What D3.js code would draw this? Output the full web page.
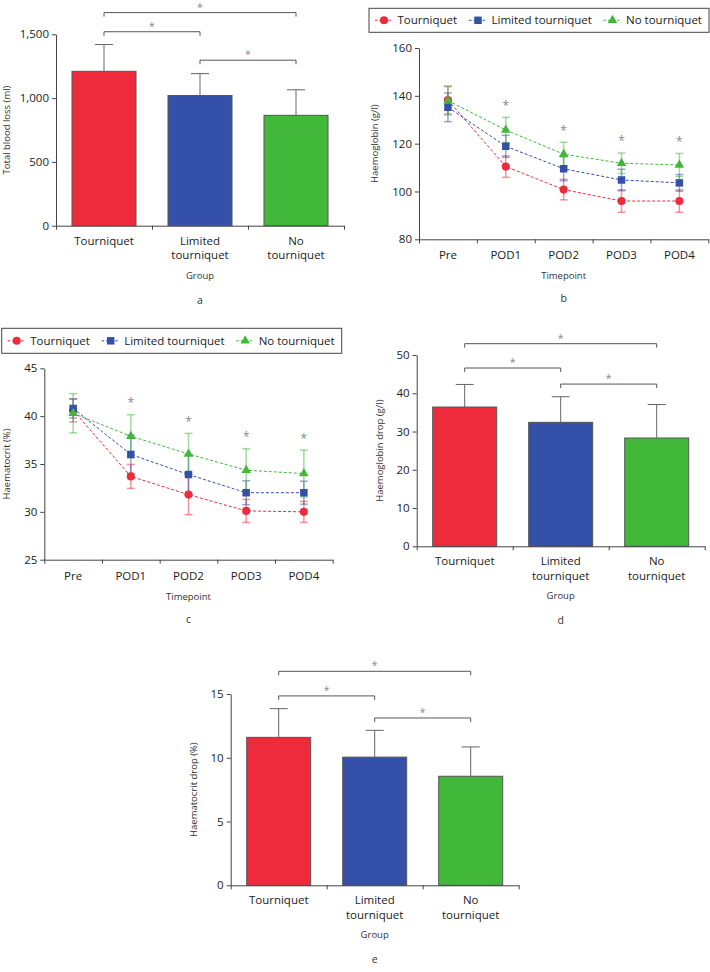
<!DOCTYPE html>
<html><head><meta charset="utf-8">
<script src="https://cdn.jsdelivr.net/npm/d3@7/dist/d3.min.js"></script>
<style>
body{margin:0;background:#fff;}
svg{display:block;font-family:"Open Sans",sans-serif;}
</style></head><body>
<svg id="chart" width="710" height="972"></svg>
<script>
// ---------------- DATA ----------------
const groups = ["Tourniquet", "Limited tourniquet", "No tourniquet"];
const groupLabelLines = [["Tourniquet"], ["Limited", "tourniquet"], ["No", "tourniquet"]];
const groupColors = ["#EE2A3D", "#3550A8", "#42B83B"];

const bloodLossMean = [1210, 1020, 865];
const bloodLossSD = [210, 172, 200];

const hbDropMean = [36.4, 32.4, 28.3];
const hbDropSD = [5.9, 6.7, 8.75];

const hctDropMean = [11.6, 10.05, 8.55];
const hctDropSD = [2.25, 2.1, 2.3];

const comparisons = [[0, 2], [0, 1], [1, 2]];

const timepoints = ["Pre", "POD1", "POD2", "POD3", "POD4"];
const hbTourniquet = [138.2, 110.4, 100.8, 96.0, 96.0];
const hbTourniquetSD = [5.7, 4.5, 4.3, 4.7, 4.7];
const hbLimited = [135.2, 118.9, 109.5, 104.8, 103.6];
const hbLimitedSD = [6.0, 4.6, 5.0, 4.5, 3.5];
const hbNone = [138.0, 125.7, 115.6, 111.8, 111.1];
const hbNoneSD = [6.1, 5.3, 5.0, 4.3, 4.8];

const hctTourniquet = [40.6, 33.7, 31.8, 30.1, 30.0];
const hctTourniquetSD = [1.2, 1.25, 2.1, 1.2, 1.1];
const hctLimited = [40.8, 36.0, 33.9, 32.0, 32.0];
const hctLimitedSD = [1.0, 2.0, 2.1, 1.25, 1.2];
const hctNone = [40.3, 37.9, 36.05, 34.35, 34.0];
const hctNoneSD = [2.05, 2.25, 2.15, 2.25, 2.45];

const significantTimepoints = ["POD1", "POD2", "POD3", "POD4"];

const blTicks = [0, 500, 1000, 1500];
const hbDropTicks = [0, 10, 20, 30, 40, 50];
const hctDropTicks = [0, 5, 10, 15];
const hbTicks = [80, 100, 120, 140, 160];
const hctTicks = [25, 30, 35, 40, 45];

// ---------------- STYLE ----------------
const AXIS = "#444";
const TICKFS = 11.5, TITLEFS = 9.5, LABFS = 10.5;
const svg = d3.select("#chart");

function styleAxis(g) {
  g.select(".domain").attr("stroke", AXIS).attr("stroke-width", 1);
  g.selectAll(".tick line").attr("stroke", AXIS).attr("stroke-width", 1);
  g.selectAll(".tick text").attr("fill", "#222").style("font-size", TICKFS + "px").style("font-family", "'Open Sans',sans-serif");
}

// ---------------- BAR PANEL ----------------
function barPanel(cfg) {
  const g = svg.append("g");
  const x = d3.scaleBand().domain(groups).range([cfg.x0, cfg.x1]).paddingInner(1 / 3).paddingOuter(1 / 6);
  const y = d3.scaleLinear().domain(cfg.domain).range([cfg.yb, cfg.yt]);
  const bx = d3.scaleLinear().domain([0, groups.length]).range([cfg.x0, cfg.x1]);

  g.selectAll("rect.bar").data(groups).join("rect")
    .attr("x", d => x(d)).attr("width", x.bandwidth())
    .attr("y", (d, i) => y(cfg.mean[i])).attr("height", (d, i) => y(0) - y(cfg.mean[i]))
    .attr("fill", (d, i) => groupColors[i]).attr("stroke", "#555").attr("stroke-width", 1);
  groups.forEach((d, i) => {
    const cx = x(d) + x.bandwidth() / 2;
    g.append("line").attr("x1", cx).attr("x2", cx).attr("y1", y(cfg.mean[i])).attr("y2", y(cfg.mean[i] + cfg.sd[i]))
      .attr("stroke", "#666").attr("stroke-width", 1);
    g.append("line").attr("x1", cx - 9).attr("x2", cx + 9).attr("y1", y(cfg.mean[i] + cfg.sd[i])).attr("y2", y(cfg.mean[i] + cfg.sd[i]))
      .attr("stroke", "#666").attr("stroke-width", 1);
  });
  const ya = g.append("g").attr("transform", `translate(${cfg.x0},0)`)
    .call(d3.axisLeft(y).tickValues(cfg.ticks).tickSize(4).tickSizeOuter(0).tickPadding(3).tickFormat(cfg.fmt || d3.format("d")));
  styleAxis(ya);
  const xa = g.append("g").attr("transform", `translate(0,${cfg.yb})`)
    .call(d3.axisBottom(bx).tickValues(d3.range(groups.length + 1)).tickSize(4).tickSizeOuter(0).tickFormat(""));
  styleAxis(xa);
  groups.forEach((d, i) => {
    const cx = x(d) + x.bandwidth() / 2;
    const t = g.append("text").attr("x", cx).attr("y", cfg.yb + 19).attr("text-anchor", "middle")
      .style("font-size", TICKFS + "px").attr("fill", "#222");
    groupLabelLines[i].forEach((ln, k) => t.append("tspan").attr("x", cx).attr("dy", k ? 14.5 : 0).text(ln));
  });
  g.append("text").attr("x", (cfg.x0 + cfg.x1) / 2).attr("y", cfg.yb + 53).attr("text-anchor", "middle")
    .style("font-size", TITLEFS + "px").attr("fill", "#333").text("Group");
  g.append("text").attr("transform", `translate(${cfg.titleX},${(cfg.yt + cfg.yb) / 2}) rotate(-90)`)
    .attr("text-anchor", "middle").attr("dy", "0.35em").style("font-size", TITLEFS + "px").attr("fill", "#333").text(cfg.title);
  g.append("text").attr("x", (cfg.x0 + cfg.x1) / 2).attr("y", cfg.yb + 78).attr("text-anchor", "middle")
    .style("font-size", LABFS + "px").attr("fill", "#333").text(cfg.letter);
  comparisons.forEach((c, k) => {
    const xa_ = x(groups[c[0]]) + x.bandwidth() / 2, xb_ = x(groups[c[1]]) + x.bandwidth() / 2;
    const yy = y(cfg.brackets[k]);
    g.append("path").attr("d", `M${xa_},${yy + 4}V${yy}H${xb_}V${yy + 4}`).attr("fill", "none").attr("stroke", "#555").attr("stroke-width", 1);
    g.append("text").attr("x", (xa_ + xb_) / 2).attr("y", Math.max(yy - 2, 11)).attr("text-anchor", "middle")
      .style("font-size", "10.5px").attr("fill", "#888").text("*");
  });
}

// ---------------- LINE PANEL ----------------
const markerTypes = [d3.symbolCircle, d3.symbolSquare, d3.symbolTriangle];
const markerSizes = [52, 56, 40];
function legend(lx, ly, w, h) {
  const g = svg.append("g");
  g.append("rect").attr("x", lx).attr("y", ly).attr("width", w).attr("height", h).attr("fill", "#fff").attr("stroke", "#444").attr("stroke-width", 1);
  const mOff = [15, 109, 243.5];
  groups.forEach((d, i) => {
    const mx = lx + mOff[i], my = ly + h / 2;
    g.append("line").attr("x1", mx - 9).attr("x2", mx + 9).attr("y1", my).attr("y2", my)
      .attr("stroke", groupColors[i]).attr("stroke-dasharray", "2.5,2").attr("stroke-width", 1);
    g.append("path").attr("d", d3.symbol(markerTypes[i], markerSizes[i])()).attr("transform", `translate(${mx},${my})`).attr("fill", groupColors[i]);
    g.append("text").attr("x", mx + 13.5).attr("y", my).attr("dy", "0.35em").style("font-size", TICKFS + "px").attr("fill", "#222").text(d);
  });
}
function linePanel(cfg) {
  const g = svg.append("g");
  const x = d3.scalePoint().domain(timepoints).range([cfg.x0, cfg.x1]).padding(0.5);
  const y = d3.scaleLinear().domain(cfg.domain).range([cfg.yb, cfg.yt]);
  const bx = d3.scaleLinear().domain([0, timepoints.length]).range([cfg.x0, cfg.x1]);

  const ya = g.append("g").attr("transform", `translate(${cfg.x0},0)`)
    .call(d3.axisLeft(y).tickValues(cfg.ticks).tickSize(4).tickSizeOuter(0).tickPadding(3));
  styleAxis(ya);
  const xa = g.append("g").attr("transform", `translate(0,${cfg.yb})`)
    .call(d3.axisBottom(bx).tickValues(d3.range(timepoints.length + 1)).tickSize(4).tickSizeOuter(0).tickFormat(""));
  styleAxis(xa);
  timepoints.forEach(t => {
    g.append("text").attr("x", x(t)).attr("y", cfg.yb + 20).attr("text-anchor", "middle")
      .style("font-size", TICKFS + "px").attr("fill", "#222").text(t);
  });
  g.append("text").attr("x", (cfg.x0 + cfg.x1) / 2).attr("y", cfg.yb + 40).attr("text-anchor", "middle")
    .style("font-size", TITLEFS + "px").attr("fill", "#333").text("Timepoint");
  g.append("text").attr("transform", `translate(${cfg.titleX},${(cfg.yt + cfg.yb) / 2}) rotate(-90)`)
    .attr("text-anchor", "middle").attr("dy", "0.35em").style("font-size", TITLEFS + "px").attr("fill", "#333").text(cfg.title);
  g.append("text").attr("x", (cfg.x0 + cfg.x1) / 2).attr("y", cfg.yb + 63).attr("text-anchor", "middle")
    .style("font-size", LABFS + "px").attr("fill", "#333").text(cfg.letter);

  const line = d3.line().x((d, j) => x(timepoints[j])).y(d => y(d));
  cfg.series.forEach((s, i) => {
    g.append("path").attr("d", line(s.mean)).attr("fill", "none").attr("stroke", groupColors[i])
      .attr("stroke-width", 1).attr("stroke-dasharray", "3,2");
  });
  cfg.series.forEach((s, i) => {
    s.mean.forEach((m, j) => {
      const cx = x(timepoints[j]);
      const eg = g.append("g").attr("stroke", groupColors[i]).attr("stroke-opacity", 0.5).attr("stroke-width", 1.5);
      eg.append("line").attr("x1", cx).attr("x2", cx).attr("y1", y(m - s.sd[j])).attr("y2", y(m + s.sd[j]));
      eg.append("line").attr("x1", cx - 4).attr("x2", cx + 4).attr("y1", y(m - s.sd[j])).attr("y2", y(m - s.sd[j]));
      eg.append("line").attr("x1", cx - 4).attr("x2", cx + 4).attr("y1", y(m + s.sd[j])).attr("y2", y(m + s.sd[j]));
    });
  });
  cfg.series.forEach((s, i) => {
    g.selectAll(null).data(s.mean).join("path")
      .attr("d", d3.symbol(markerTypes[i], markerSizes[i])())
      .attr("transform", (d, j) => `translate(${x(timepoints[j])},${y(d)})`).attr("fill", groupColors[i]);
  });
  significantTimepoints.forEach(t => {
    const j = timepoints.indexOf(t);
    const top = d3.min(cfg.series, s => y(s.mean[j] + s.sd[j]));
    g.append("text").attr("x", x(t)).attr("y", top - 7.5).attr("text-anchor", "middle")
      .style("font-size", "12px").attr("fill", "#888").text("*");
  });
  legend(cfg.lx, cfg.ly, cfg.lw, cfg.lh);
}

// ---------------- PANELS ----------------
barPanel({ x0: 56, x1: 344, yt: 34.3, yb: 225.7, domain: [0, 1500], ticks: blTicks, fmt: d3.format(","),
  mean: bloodLossMean, sd: bloodLossSD, title: "Total blood loss (ml)", titleX: 7, letter: "a", brackets: [1670, 1520, 1297] });

linePanel({ x0: 419, x1: 708.3, yt: 48, yb: 239.3, domain: [80, 160], ticks: hbTicks, title: "Haemoglobin (g/l)", titleX: 375, letter: "b",
  series: [{ mean: hbTourniquet, sd: hbTourniquetSD }, { mean: hbLimited, sd: hbLimitedSD }, { mean: hbNone, sd: hbNoneSD }],
  lx: 369, ly: 8.3, lw: 340, lh: 24 });

linePanel({ x0: 44.3, x1: 332.7, yt: 368.3, yb: 559.7, domain: [25, 45], ticks: hctTicks, title: "Haematocrit (%)", titleX: 7, letter: "c",
  series: [{ mean: hctTourniquet, sd: hctTourniquetSD }, { mean: hctLimited, sd: hctLimitedSD }, { mean: hctNone, sd: hctNoneSD }],
  lx: 1.7, ly: 328.3, lw: 340, lh: 25 });

barPanel({ x0: 416.7, x1: 704.7, yt: 355, yb: 546.3, domain: [0, 50], ticks: hbDropTicks,
  mean: hbDropMean, sd: hbDropSD, title: "Haemoglobin drop (g/l)", titleX: 380, letter: "d", brackets: [52.96, 46.6, 42.4] });

barPanel({ x0: 230.7, x1: 518.7, yt: 694, yb: 885.3, domain: [0, 15], ticks: hctDropTicks,
  mean: hctDropMean, sd: hctDropSD, title: "Haematocrit drop (%)", titleX: 193.3, letter: "e", brackets: [16.78, 14.85, 13.12] });
</script>
</body></html>
